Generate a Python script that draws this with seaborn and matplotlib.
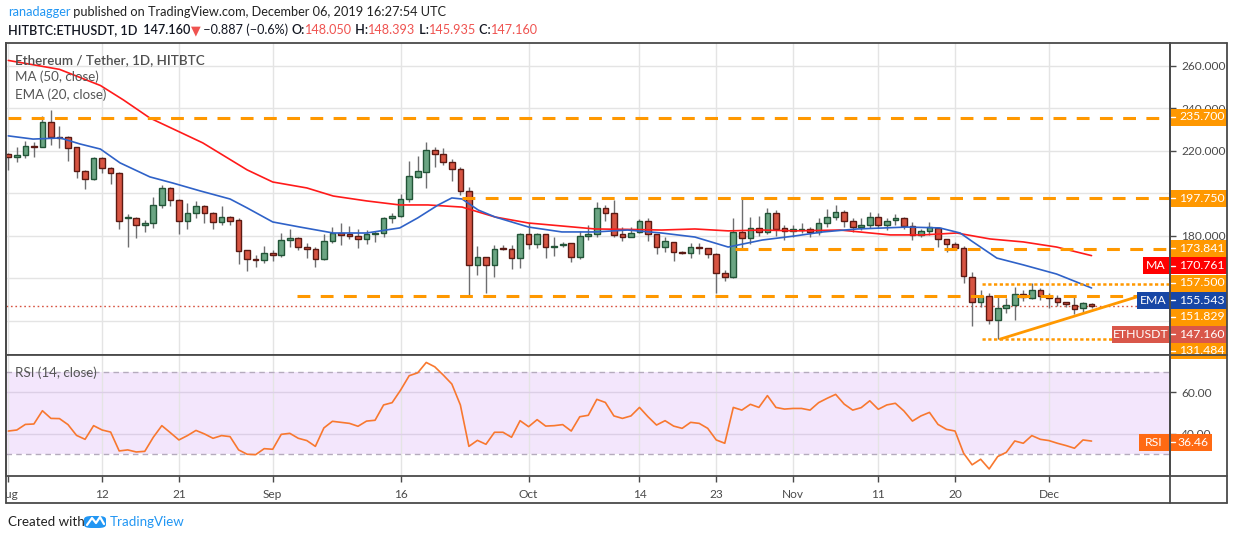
import numpy as np
import pandas as pd
import matplotlib
matplotlib.use("Agg")
import matplotlib.pyplot as plt
import seaborn as sns
from matplotlib.patches import Rectangle, FancyBboxPatch
from matplotlib.lines import Line2D

# ---------------- data ----------------
opens = [218.6, 217.0, 218.0, 222.3, 222.0, 233.5, 226.5, 226.4, 221.7, 210.7,
         206.7, 216.5, 211.8, 209.5, 188.3, 188.3, 185.0, 186.0, 194.4, 202.4,
         197.0, 187.2, 190.7, 194.1, 191.0, 186.4, 188.8, 187.5, 173.4, 169.0,
         168.8, 171.8, 170.9, 178.0, 178.9, 174.8, 173.7, 169.0, 177.5, 181.3,
         181.0, 180.0, 178.4, 180.8, 181.3, 188.3, 189.4, 197.2, 207.9, 210.3,
         220.5, 218.6, 215.0, 211.4, 201.3, 166.3, 170.0, 166.3, 173.9, 173.7,
         169.5, 180.8, 176.1, 180.8, 175.0, 175.6, 176.6, 170.3, 180.0, 180.8,
         193.0, 191.0, 180.8, 179.7, 182.0, 187.0, 180.8, 174.7, 177.0, 172.6,
         171.9, 175.0, 174.2, 171.4, 162.4, 160.5, 181.7, 179.2, 183.9, 181.7,
         190.7, 183.6, 182.3, 182.8, 183.1, 181.7, 186.0, 188.8, 191.1, 187.0,
         184.1, 185.2, 189.1, 185.2, 187.5, 188.3, 184.9, 180.5, 182.3, 183.6,
         178.4, 176.1, 174.5, 160.9, 149.1, 151.9, 140.5, 145.9, 147.5, 152.7,
         150.7, 154.6, 151.8, 150.7, 148.8, 147.5, 146.0, 148.05]
highs = [219.2, 222.0, 224.9, 224.0, 236.6, 239.3, 231.8, 227.0, 222.0, 211.0,
         217.0, 217.0, 212.5, 210.3, 190.2, 188.8, 187.5, 198.2, 204.0, 203.2,
         197.3, 195.7, 196.5, 194.5, 191.3, 194.1, 189.2, 188.3, 173.6, 171.0,
         175.3, 173.4, 181.6, 183.3, 179.3, 176.5, 175.0, 180.8, 184.4, 186.0,
         184.7, 183.1, 182.8, 182.3, 189.1, 190.7, 199.8, 215.3, 217.6, 224.4,
         222.0, 221.2, 216.1, 212.3, 202.9, 175.3, 170.3, 175.8, 175.8, 175.8,
         181.6, 186.0, 181.2, 181.0, 179.7, 177.3, 176.9, 182.3, 185.2, 196.2,
         194.6, 196.9, 184.4, 184.4, 187.8, 188.3, 181.0, 179.4, 177.2, 172.8,
         176.9, 176.5, 174.4, 171.9, 164.0, 188.3, 198.0, 188.8, 189.4, 193.0,
         192.2, 185.2, 185.2, 186.0, 184.4, 188.3, 192.5, 194.6, 192.2, 188.3,
         188.3, 191.4, 190.7, 188.3, 190.4, 189.1, 186.7, 183.1, 186.7, 184.1,
         178.6, 177.3, 175.3, 163.2, 154.6, 153.0, 151.8, 150.7, 156.2, 154.6,
         157.7, 155.4, 153.0, 152.2, 149.0, 151.8, 149.1, 148.393]
lows = [211.0, 215.0, 216.9, 217.3, 222.0, 222.8, 221.3, 215.5, 207.4, 202.3,
        206.4, 209.8, 204.3, 183.1, 175.0, 178.9, 182.0, 183.6, 193.0, 194.1,
        180.8, 183.1, 188.3, 186.0, 183.1, 185.2, 185.0, 166.7, 163.7, 165.6,
        167.5, 168.0, 170.3, 175.0, 173.4, 169.5, 165.3, 168.7, 176.5, 175.8,
        178.4, 174.2, 176.2, 177.3, 179.7, 186.0, 188.8, 196.2, 207.5, 202.4,
        212.3, 213.4, 206.0, 199.3, 152.2, 161.6, 153.0, 160.9, 173.5, 164.3,
        164.8, 173.7, 174.2, 169.5, 170.7, 174.7, 167.9, 169.0, 178.1, 179.4,
        187.2, 179.7, 177.8, 179.4, 181.3, 177.8, 171.5, 172.6, 168.4, 171.6,
        169.5, 171.5, 169.5, 153.3, 159.0, 160.3, 174.2, 176.2, 180.0, 180.9,
        180.0, 178.1, 179.7, 181.2, 179.4, 180.5, 184.4, 187.5, 184.4, 182.0,
        182.8, 183.6, 183.6, 182.8, 185.2, 183.1, 178.1, 179.4, 180.5, 175.0,
        172.6, 173.4, 157.7, 137.6, 146.4, 138.6, 131.4, 143.6, 140.5, 149.6,
        150.2, 149.9, 145.9, 147.0, 146.7, 143.3, 143.9, 145.935]
closes = [217.0, 218.1, 222.4, 222.1, 233.5, 226.4, 226.3, 221.3, 210.7, 206.7,
          216.5, 211.8, 209.5, 187.0, 188.9, 185.0, 186.1, 194.4, 202.4, 197.0,
          187.2, 190.7, 194.1, 191.0, 186.4, 188.8, 187.2, 173.1, 169.0, 168.8,
          171.8, 170.9, 178.1, 178.9, 174.7, 174.0, 169.0, 177.5, 181.3, 180.5,
          180.2, 178.4, 180.8, 181.6, 188.3, 189.4, 197.2, 208.2, 210.6, 220.5,
          218.6, 215.0, 211.4, 201.2, 166.3, 170.3, 166.3, 173.7, 173.7, 169.5,
          180.8, 176.1, 180.8, 175.0, 175.4, 176.1, 170.3, 180.0, 180.8, 193.0,
          191.0, 180.5, 179.7, 181.3, 187.0, 180.8, 174.7, 177.6, 172.6, 171.9,
          175.0, 174.2, 171.4, 162.4, 160.5, 181.7, 179.2, 183.6, 181.7, 190.7,
          183.1, 182.3, 183.1, 182.9, 181.7, 186.0, 188.8, 191.1, 187.0, 184.4,
          185.2, 189.1, 185.2, 187.2, 188.3, 184.9, 180.5, 182.3, 184.1, 178.4,
          176.2, 174.5, 161.2, 149.1, 151.8, 140.5, 145.9, 147.5, 152.6, 151.1,
          154.6, 151.8, 150.7, 148.8, 147.8, 145.5, 148.3, 147.16]

ma_days = [0, 6, 10.8, 13.5, 16.6, 20.1, 22.8, 28, 31, 35, 38.1, 42, 45.9, 49.2,
           53.2, 57.1, 61, 64.9, 68.8, 72.6, 76.6, 80.5, 84.4, 88.4, 92.2, 97.5,
           103.4, 107.2, 111.2, 115.1, 119, 122.9, 127]
ma_vals = [262.6, 258.4, 250.8, 244.0, 235.5, 228.9, 223.8, 211.1, 205.4, 202.6,
           198.8, 196.5, 194.6, 194.6, 193.6, 188.9, 186.1, 184.7, 183.3, 183.1,
           182.8, 183.3, 182.4, 182.8, 182.4, 182.8, 180.5, 180.5, 181.4, 178.6,
           177.2, 174.8, 170.761]

ema_days = [0, 2.9, 6.1, 8.4, 10.8, 13.1, 16.6, 19.3, 22.5, 26, 28, 31, 34.2,
            38.1, 42, 45.9, 48, 50.4, 52, 53.2, 55.1, 57.1, 61, 64.9, 68.8,
            72.6, 76.6, 80.5, 84.4, 88.4, 92.2, 95.5, 99.5, 105.4, 109.2,
            111.6, 113.1, 115.9, 119, 122.9, 127]
ema_vals = [227.1, 225.6, 226.1, 223.3, 220.9, 214.4, 207.8, 204.9, 201.2, 197.4,
            193.2, 186.6, 184.2, 181.4, 181.4, 183.8, 188.5, 194.6, 197.9, 197.4,
            192.2, 188.9, 184.2, 181.9, 181.9, 182.8, 181.4, 179.5, 174.8, 178.1,
            180.0, 181.9, 183.3, 184.2, 183.8, 181.4, 177.2, 169.6, 166.4, 162.1,
            155.543]

rsi_vals = [41.3, 41.8, 44.5, 44.7, 51.1, 47.4, 47.3, 44.4, 39.2, 37.3,
            43.9, 41.8, 40.8, 31.7, 32.2, 31.2, 31.5, 38.3, 43.9, 40.5,
            37.0, 39.1, 41.6, 39.9, 37.8, 39.1, 38.6, 32.2, 30.1, 29.9,
            32.8, 32.5, 39.7, 40.2, 37.8, 36.7, 33.9, 42.8, 46.0, 45.5,
            45.0, 43.6, 46.1, 46.5, 53.9, 55.0, 61.1, 68.0, 69.4, 74.4,
            72.3, 68.3, 64.0, 53.9, 33.9, 36.8, 34.9, 40.7, 40.7, 38.3,
            46.3, 43.4, 46.8, 43.7, 43.9, 44.4, 41.3, 48.2, 48.9, 56.6,
            55.1, 48.6, 47.4, 48.6, 52.7, 48.2, 44.2, 46.3, 43.7, 42.6,
            45.5, 45.0, 42.6, 37.0, 35.4, 52.7, 51.4, 54.2, 52.7, 58.4,
            52.7, 51.9, 52.2, 52.2, 51.4, 55.0, 57.1, 59.0, 54.3, 51.4,
            52.6, 55.9, 51.8, 53.9, 54.7, 51.0, 46.1, 48.6, 50.3, 44.5,
            42.1, 41.3, 30.6, 25.0, 27.7, 23.0, 29.0, 31.0, 36.5, 35.4,
            39.1, 37.3, 36.7, 35.4, 34.3, 33.0, 37.0, 36.46]

tick_days = [0, 11, 20, 31, 46, 61, 74, 83, 92, 102, 111, 122]
tick_labels = ["Aug", "12", "21", "Sep", "16", "Oct", "14", "23", "Nov", "11", "20", "Dec"]

dash_levels = [235.7, 197.75, 173.841, 151.829]
dash_starts = [0, 53.2, 85.2, 33.8]
dot_levels = [157.5, 131.484]
dot_starts = [114.1, 114.1]
trend_days = [116.3, 133.0]
trend_vals = [131.5, 152.2]
last_price = 147.16
ma_last = 170.761
ema_last = 155.543
rsi_last = 36.46
price_grid = [140, 160, 180, 200, 220, 240, 260]
price_labelled = [180, 220, 240, 260]   # the others sit fully under level boxes
rsi_ticks = [40, 60]

# ---------------- styling / layout ----------------
sns.set_theme(style="white")
plt.rcParams["font.family"] = ["Lato", "DejaVu Sans"]

W, H = 1234, 540
fig = plt.figure(figsize=(W / 100, H / 100), dpi=100)


def fx(px):
    return px / W


def fy(py):
    return 1 - py / H


L, R = 6, 1170
TOP, MID, BOT = 43, 355, 476
FRAME = "#4a4a4a"
ORANGE = "#FF9800"
TXT = "#4a4a4a"

ax = fig.add_axes([fx(L), fy(MID), fx(R - L), (MID - TOP) / H])
ax2 = fig.add_axes([fx(L), fy(BOT), fx(R - L), (BOT - MID) / H], sharex=ax)

xmin, xmax = -0.27, 136.2
ax.set_xlim(xmin, xmax)
ax.set_ylim(124.0, 270.8)
ax2.set_ylim(19.6, 78.0)

for a in (ax, ax2):
    for s in a.spines.values():
        s.set_color(FRAME)
        s.set_linewidth(1.3)
    a.set_xticks(tick_days)
    a.grid(True, axis="x", color="#E4E4E4", lw=1)
    a.set_axisbelow(True)

# horizontal price grid (all levels), labels only where the reference shows them
for g in price_grid:
    ax.axhline(g, color="#E4E4E4", lw=1, zorder=0)
ax.yaxis.tick_right()
ax.set_yticks(price_labelled)
ax.set_yticklabels([f"{v:.3f}" for v in price_labelled])
ax.tick_params(axis="y", direction="out", length=4, width=1, color=FRAME,
               labelsize=8.6, labelcolor=TXT, pad=4, right=True, left=False)
ax.tick_params(axis="x", length=0, labelbottom=False)
ax.set_xlabel("")
ax.set_ylabel("")

# candles
d = np.arange(len(closes))
o = np.array(opens)
c = np.array(closes)
up = c >= o
body_lo = np.minimum(o, c)
body_h = np.maximum(np.abs(c - o), 0.45)
ax.vlines(d, lows, highs, color="#6E6E70", lw=1, zorder=3)
ax.bar(d[up], body_h[up], bottom=body_lo[up], width=0.66, color="#6BA583",
       edgecolor="#225437", linewidth=1, zorder=4)
ax.bar(d[~up], body_h[~up], bottom=body_lo[~up], width=0.66, color="#D75442",
       edgecolor="#5B1A13", linewidth=1, zorder=4)

# moving averages
sns.lineplot(x=ma_days, y=ma_vals, ax=ax, color="#FF1A1A", lw=1.2, sort=False,
             estimator=None, zorder=5)
sns.lineplot(x=ema_days, y=ema_vals, ax=ax, color="#2F62C8", lw=1.2, sort=False,
             estimator=None, zorder=5)

# levels
for lv, st in zip(dash_levels, dash_starts):
    ax.plot([st, xmax], [lv, lv], color=ORANGE, lw=2.2, dashes=(4.2, 3.4), zorder=6,
            solid_capstyle="butt")
for lv, st in zip(dot_levels, dot_starts):
    ax.plot([st, xmax], [lv, lv], color=ORANGE, lw=1.8, dashes=(1.3, 1.0), zorder=6)
ax.plot(trend_days, trend_vals, color=ORANGE, lw=2.0, zorder=6, solid_capstyle="round")
ax.axhline(last_price, color="#D75442", lw=1, dashes=(1.2, 2.0), zorder=2)

# legend texts
lx = (15 - L) / (R - L)
ax.text(lx, 1 - (60 - TOP) / (MID - TOP), "Ethereum / Tether, 1D, HITBTC",
        transform=ax.transAxes, fontsize=9.6, color="#505050", va="center", ha="left",
        fontweight="semibold", zorder=7)
ax.text(lx, 1 - (77 - TOP) / (MID - TOP), "MA (50, close)",
        transform=ax.transAxes, fontsize=9.6, color="#555555", va="center", ha="left", zorder=7)
ax.text(lx, 1 - (95 - TOP) / (MID - TOP), "EMA (20, close)",
        transform=ax.transAxes, fontsize=9.6, color="#555555", va="center", ha="left", zorder=7)

# ---------------- RSI panel ----------------
ax2.axhspan(30, 70, color="#F3E6FC", zorder=0, lw=0)
ax2.set_yticks(rsi_ticks)
ax2.set_yticklabels([f"{v:.2f}" for v in rsi_ticks])
ax2.grid(True, axis="y", color="#DCCFE6", lw=1)
for lv in (30, 70):
    ax2.axhline(lv, color="#B5ABBD", lw=1, dashes=(4, 3), zorder=1)
sns.lineplot(x=d, y=rsi_vals, ax=ax2, color="#F8782F", lw=1.2, sort=False,
             estimator=None, zorder=5)
ax2.yaxis.tick_right()
ax2.tick_params(axis="y", direction="out", length=4, width=1, color=FRAME,
                labelsize=8.6, labelcolor=TXT, pad=4, right=True, left=False)
ax2.set_xticklabels(tick_labels)
ax2.tick_params(axis="x", direction="out", length=4, width=1, color=FRAME,
                labelsize=8.6, labelcolor=TXT, pad=5, bottom=True)
ax2.set_xlabel("")
ax2.set_ylabel("")
ax2.text(lx, 1 - (373 - MID) / (BOT - MID), "RSI (14, close)",
         transform=ax2.transAxes, fontsize=9.6, color="#555555", va="center", ha="left",
         zorder=7)


# ---------------- figure-level decorations ----------------
def rect(x0, y0, x1, y1, color, z=5):
    fig.add_artist(Rectangle((fx(x0), fy(y1)), fx(x1 - x0), (y1 - y0) / H,
                             transform=fig.transFigure, facecolor=color,
                             edgecolor="none", zorder=z))


def fline(x0, y0, x1, y1, color=FRAME, lw=1.3, z=8):
    fig.add_artist(Line2D([fx(x0), fx(x1)], [fy(y0), fy(y1)], transform=fig.transFigure,
                          color=color, lw=lw, zorder=z))


def value_box(yc, text, color, x1=1227, h=17):
    rect(R + 1, yc - h / 2, x1, yc + h / 2, color, z=5)
    fline(R + 1, yc, R + 5, yc, color="white", lw=1, z=6)
    fig.text(fx(1179), fy(yc), text, color="white", fontsize=8.8, va="center",
             ha="left", zorder=7)


def name_box(x0, yc, text, color, h=17):
    rect(x0, yc - h / 2, R - 1, yc + h / 2, color, z=5)
    fig.text(fx((x0 + R - 1) / 2), fy(yc), text, color="white", fontsize=8.8,
             va="center", ha="center", zorder=7)


value_box(117, f"{dash_levels[0]:.3f}", ORANGE)
value_box(198, f"{dash_levels[1]:.3f}", ORANGE)
value_box(248, f"{dash_levels[2]:.3f}", ORANGE)
name_box(1143, 265.5, "MA", "#FF0000")
value_box(265.5, f"{ma_last:.3f}", "#FF0000")
value_box(283, f"{dot_levels[0]:.3f}", ORANGE)
name_box(1137, 300, "EMA", "#1747A6")
value_box(300, f"{ema_last:.3f}", "#1747A6")
value_box(317, f"{dash_levels[3]:.3f}", ORANGE)
name_box(1112, 334, "ETHUSDT", "#D9574A")
value_box(334, f"{last_price:.3f}", "#D9574A")
value_box(351, f"{dot_levels[1]:.3f}", ORANGE, h=16)
name_box(1139, 442, "RSI", "#FF6A13")
rect(R + 1, 442 - 8.5, 1212, 442 + 8.5, "#FF6A13", z=5)
fline(R + 1, 442, R + 5, 442, color="white", lw=1, z=6)
fig.text(fx(1178), fy(442), f"{rsi_last:.2f}", color="white", fontsize=8.8,
         va="center", ha="left", zorder=7)

# hide the clipped part of the first x label, then outer frame
rect(0, 478, L, 505, "white", z=7)
fline(L, TOP, L, 503)
fline(R, TOP, 1227, TOP)
fline(1227, TOP, 1227, 503)
fline(L, 503, 1227, 503)
fline(R, MID, 1227, MID)
fline(R, BOT, 1227, BOT)
fline(R, TOP, R, 503)


# header
def chain(pieces, x, y, size):
    prev = fig.text(fx(x), fy(y), pieces[0][0], color=pieces[0][1], fontsize=size,
                    fontweight=pieces[0][2], va="center", ha="left")
    for txt, col, wt in pieces[1:]:
        prev = fig.axes[0].annotate(txt, xy=(1, 0), xycoords=prev, va="bottom", ha="left",
                                    color=col, fontsize=size, fontweight=wt,
                                    annotation_clip=False)
    return prev


chain([("ranadagger", "#2196F3", "normal"),
       (" published on TradingView.com, December 06, 2019 16:27:54 UTC", "#222222", "normal")],
      8, 12, 9.2)
RED = "#EF5350"
chain([("HITBTC:ETHUSDT, 1D", "#131722", "semibold"),
       ("  147.160", "#131722", "semibold"),
       ("▼", RED, "normal"),
       (" \u22120.887 (\u22120.6%) ", "#131722", "normal"),
       ("O:", "#131722", "semibold"), ("148.050", RED, "normal"),
       (" H:", "#131722", "semibold"), ("148.393", RED, "normal"),
       (" L:", "#131722", "semibold"), ("145.935", RED, "normal"),
       (" C:", "#131722", "semibold"), ("147.160", RED, "normal")],
      8, 30, 9.1)

# footer
fig.text(fx(8), fy(522), "Created with", color="#222222", fontsize=9.6, va="center", ha="left")
fig.add_artist(FancyBboxPatch((fx(84), fy(528)), fx(22), 12 / H,
                              boxstyle="round,pad=0.0,rounding_size=0.006",
                              transform=fig.transFigure, facecolor="#2196F3",
                              edgecolor="none", zorder=5))
fig.add_artist(Line2D([fx(87), fx(92), fx(96), fx(100), fx(104)],
                      [fy(525), fy(518), fy(523), fy(517), fy(524)],
                      transform=fig.transFigure, color="white", lw=1.6, zorder=6))
fig.text(fx(110), fy(522), "TradingView", color="#2196F3", fontsize=9.6, va="center",
         ha="left")

fig.savefig("out.png", dpi=100, facecolor="white")
